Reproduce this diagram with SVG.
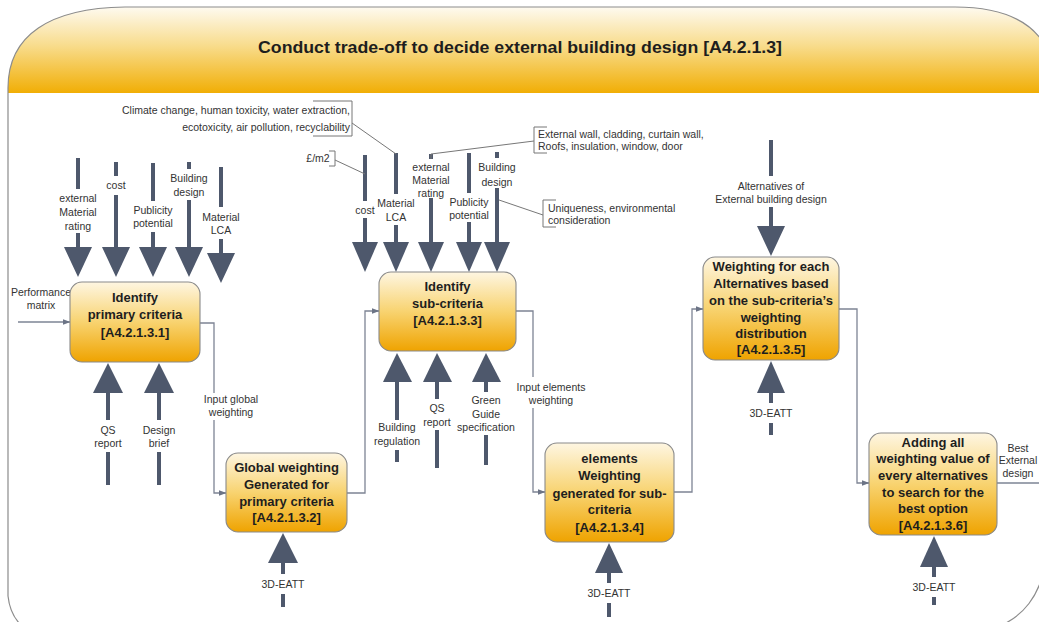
<svg xmlns="http://www.w3.org/2000/svg" width="1039" height="622" viewBox="0 0 1039 622">
  <defs>
    <linearGradient id="bandFill" x1="0" y1="0" x2="0" y2="1">
      <stop offset="0" stop-color="#FEFAF0"/>
      <stop offset="0.45" stop-color="#F8DC8C"/>
      <stop offset="1" stop-color="#F1AE05"/>
    </linearGradient>
    <linearGradient id="nodeFill" x1="0" y1="0" x2="0" y2="1">
      <stop offset="0" stop-color="#FEF6E2"/>
      <stop offset="0.5" stop-color="#F8D370"/>
      <stop offset="1" stop-color="#EFA300"/>
    </linearGradient>
    <marker id="tip" markerWidth="8" markerHeight="6" refX="7.5" refY="3" orient="auto" markerUnits="userSpaceOnUse">
      <path d="M0,0 L8,3 L0,6 Z" fill="#6C7486"/>
    </marker>
  </defs>
  <style>
    .frame { fill: none; stroke: #8C8C8C; stroke-width: 1.2; }
    .node rect { fill: url(#nodeFill); stroke: #8A8A8A; stroke-width: 1.1; }
    .node text { font-family: "Liberation Sans", Arial, sans-serif; font-size: 13px; font-weight: bold; fill: #1E1E1E; text-anchor: middle; }
    .title { font-family: "Liberation Sans", Arial, sans-serif; font-size: 17px; font-weight: bold; fill: #1E1E1E; text-anchor: middle; }
    .shaft { stroke: #4E586C; stroke-width: 4; fill: none; }
    .head { fill: #4E586C; }
    .flow { stroke: #7D8494; stroke-width: 1.3; fill: none; }
    .callout { stroke: #777777; stroke-width: 1; fill: none; }
    .lbl { font-family: "Liberation Sans", Arial, sans-serif; font-size: 10.5px; fill: #333333; text-anchor: middle; }
    .lblL { font-family: "Liberation Sans", Arial, sans-serif; font-size: 10.5px; fill: #333333; text-anchor: start; }
    .lblR { font-family: "Liberation Sans", Arial, sans-serif; font-size: 10.5px; fill: #333333; text-anchor: end; }
  </style>

  <rect width="1039" height="622" fill="#FFFFFF"/>

  <!-- title band -->
  <g id="header">
    <path d="M8,93 L8,88 C8,35 50,8 125,7 L955,7 C1000,7 1030,20 1045,45 L1045,93 Z" fill="url(#bandFill)"/>
    <text class="title" x="520" y="53" textLength="524" lengthAdjust="spacingAndGlyphs">Conduct trade-off to decide external building design [A4.2.1.3]</text>
  </g>

  <!-- outer frame -->
  <g id="frame">
    <path class="frame" d="M8,596 L8,88 C8,35 50,8 125,7 L955,7 C1000,7 1030,20 1045,45"/>
    <path class="frame" d="M8,596 Q10,615 22,626"/>
    <path class="frame" d="M1046,560 C1040,598 1022,616 1000,626"/>
  </g>

  <!-- connectors: thick control/mechanism arrows, thin flows, callouts -->
  <g id="connectors">
    <!-- A4.2.1.3.1 controls -->
    <path class="shaft" d="M78,158 V189 M78,233 V250"/>
    <polygon class="head" points="64,247 92,247 78,277"/>
    <path class="shaft" d="M116,162 V176 M116,195 V250"/>
    <polygon class="head" points="102,247 130,247 116,277"/>
    <path class="shaft" d="M153,163 V201 M153,232 V250"/>
    <polygon class="head" points="139,247 167,247 153,277"/>
    <path class="shaft" d="M189,162 V169 M189,200 V250"/>
    <polygon class="head" points="175,247 203,247 189,277"/>
    <path class="shaft" d="M221,167 V207 M221,239 V256"/>
    <polygon class="head" points="207,253 235,253 221,283"/>
    <!-- A4.2.1.3.1 mechanisms -->
    <polygon class="head" points="93,393 123,393 108,363"/>
    <path class="shaft" d="M108,390 V420 M108,452 V485"/>
    <polygon class="head" points="144,393 174,393 159,363"/>
    <path class="shaft" d="M159,390 V420 M159,452 V485"/>
    <!-- A4.2.1.3.2 mechanism -->
    <polygon class="head" points="268,563 298,563 283,533"/>
    <path class="shaft" d="M283,560 V574 M283,594 V607"/>
    <!-- A4.2.1.3.3 controls -->
    <path class="shaft" d="M365,155 V201 M365,218 V245"/>
    <polygon class="head" points="352,242 378,242 365,272"/>
    <path class="shaft" d="M396,153 V194 M396,225 V245"/>
    <polygon class="head" points="383,242 409,242 396,272"/>
    <path class="shaft" d="M431,154 V159 M431,198 V245"/>
    <polygon class="head" points="418,242 444,242 431,272"/>
    <path class="shaft" d="M469,153 V193 M469,222 V245"/>
    <polygon class="head" points="456,242 482,242 469,272"/>
    <path class="shaft" d="M497,152 V158 M497,188 V245"/>
    <polygon class="head" points="484,242 510,242 497,272"/>
    <!-- A4.2.1.3.3 mechanisms -->
    <polygon class="head" points="383,382 412,382 397,353"/>
    <path class="shaft" d="M397,379 V420 M397,450 V462"/>
    <polygon class="head" points="423,382 452,382 437,353"/>
    <path class="shaft" d="M437,379 V399 M437,430 V468"/>
    <polygon class="head" points="472,382 501,382 486,353"/>
    <path class="shaft" d="M486,379 V392 M486,435 V465"/>
    <!-- A4.2.1.3.4 mechanism -->
    <polygon class="head" points="595,573 623,573 609,543"/>
    <path class="shaft" d="M609,570 V583 M609,603 V617"/>
    <!-- A4.2.1.3.5 control and mechanism -->
    <path class="shaft" d="M771,140 V176 M771,207 V229"/>
    <polygon class="head" points="757,226 785,226 771,256"/>
    <polygon class="head" points="757,393 785,393 771,361"/>
    <path class="shaft" d="M771,390 V403 M771,423 V435"/>
    <!-- A4.2.1.3.6 mechanism -->
    <polygon class="head" points="920,567 948,567 934,536"/>
    <path class="shaft" d="M934,564 V577 M934,597 V605"/>

    <!-- flows between activities -->
    <path class="flow" d="M18,322 H70" marker-end="url(#tip)"/>
    <path class="flow" d="M200,323 H214 V393 M214,420 V493 H226" marker-end="url(#tip)"/>
    <path class="flow" d="M347,493 H365 V311 H379" marker-end="url(#tip)"/>
    <path class="flow" d="M516,311 H533 V377 M533,408 V492 H545" marker-end="url(#tip)"/>
    <path class="flow" d="M674,492 H692 V309 H703" marker-end="url(#tip)"/>
    <path class="flow" d="M839,309 H857 V483 H869" marker-end="url(#tip)"/>
    <path class="flow" d="M997,483 H1039"/>

    <!-- callout brackets and leaders -->
    <path class="callout" d="M313,101 H352 V136 H313"/>
    <path class="callout" d="M352,123 L396,154"/>
    <path class="callout" d="M329,151 H335 V166 H329"/>
    <path class="callout" d="M335,160 L365,174"/>
    <path class="callout" d="M547,127 H534 V153 H547"/>
    <path class="callout" d="M431,159 V154 L534,141"/>
    <path class="callout" d="M556,200 H543 V227 H556"/>
    <path class="callout" d="M499,200 L543,215"/>
  </g>

  <!-- labels on arrows and flows -->
  <g id="labels">
    <text class="lbl" x="78" y="201.5">external</text>
    <text class="lbl" x="78" y="215.5">Material</text>
    <text class="lbl" x="78" y="229.5">rating</text>
    <text class="lbl" x="116" y="188.5">cost</text>
    <text class="lbl" x="153" y="213.5">Publicity</text>
    <text class="lbl" x="153" y="226.5">potential</text>
    <text class="lbl" x="189" y="181.5">Building</text>
    <text class="lbl" x="189" y="195.5">design</text>
    <text class="lbl" x="221" y="220.5">Material</text>
    <text class="lbl" x="221" y="233.5">LCA</text>
    <text class="lbl" x="41" y="295.5">Performance</text>
    <text class="lbl" x="41" y="308.5">matrix</text>
    <text class="lbl" x="108" y="433.5">QS</text>
    <text class="lbl" x="108" y="446.5">report</text>
    <text class="lbl" x="159" y="433.5">Design</text>
    <text class="lbl" x="159" y="446.5">brief</text>
    <text class="lbl" x="231" y="402.5">Input global</text>
    <text class="lbl" x="231" y="415.5">weighting</text>
    <text class="lbl" x="283" y="587.5">3D-EATT</text>

    <text class="lblR" x="350" y="113.5">Climate change, human toxicity, water extraction,</text>
    <text class="lblR" x="350" y="130.5">ecotoxicity, air pollution, recyclability</text>
    <text class="lbl" x="318" y="161.5">£/m2</text>
    <text class="lbl" x="365" y="213.5">cost</text>
    <text class="lbl" x="396" y="206.5">Material</text>
    <text class="lbl" x="396" y="220.5">LCA</text>
    <text class="lbl" x="431" y="170.5">external</text>
    <text class="lbl" x="431" y="183.5">Material</text>
    <text class="lbl" x="431" y="196.5">rating</text>
    <text class="lbl" x="469" y="205.5">Publicity</text>
    <text class="lbl" x="469" y="218.5">potential</text>
    <text class="lbl" x="497" y="170.5">Building</text>
    <text class="lbl" x="497" y="185.5">design</text>
    <text class="lblL" x="538" y="137.5">External wall, cladding, curtain wall,</text>
    <text class="lblL" x="538" y="149.5">Roofs, insulation, window, door</text>
    <text class="lblL" x="548" y="211.5">Uniqueness, environmental</text>
    <text class="lblL" x="548" y="223.5">consideration</text>

    <text class="lbl" x="397" y="430.5">Building</text>
    <text class="lbl" x="397" y="444.5">regulation</text>
    <text class="lbl" x="437" y="411.5">QS</text>
    <text class="lbl" x="437" y="425.5">report</text>
    <text class="lbl" x="486" y="403.5">Green</text>
    <text class="lbl" x="486" y="417.5">Guide</text>
    <text class="lbl" x="486" y="430.5">specification</text>
    <text class="lbl" x="551" y="390.5">Input elements</text>
    <text class="lbl" x="551" y="403.5">weighting</text>
    <text class="lbl" x="609" y="596.5">3D-EATT</text>

    <text class="lbl" x="771" y="189.5">Alternatives of</text>
    <text class="lbl" x="771" y="202.5">External building design</text>
    <text class="lbl" x="771" y="416.5">3D-EATT</text>
    <text class="lbl" x="1018" y="451.5">Best</text>
    <text class="lbl" x="1018" y="463.5">External</text>
    <text class="lbl" x="1018" y="476.5">design</text>
    <text class="lbl" x="934" y="590.5">3D-EATT</text>
  </g>

  <!-- activity boxes -->
  <g id="A4.2.1.3.1" class="node">
    <rect x="70" y="282" width="130" height="80" rx="12"/>
    <text x="135" y="301.5">Identify</text>
    <text x="135" y="318.5">primary criteria</text>
    <text x="135" y="336.5">[A4.2.1.3.1]</text>
  </g>
  <g id="A4.2.1.3.2" class="node">
    <rect x="226" y="453" width="121" height="79" rx="12"/>
    <text x="286.5" y="471.5">Global weighting</text>
    <text x="286.5" y="488.5">Generated for</text>
    <text x="286.5" y="505.5">primary criteria</text>
    <text x="286.5" y="521.5">[A4.2.1.3.2]</text>
  </g>
  <g id="A4.2.1.3.3" class="node">
    <rect x="379" y="272" width="137" height="79" rx="12"/>
    <text x="447.5" y="290.5">Identify</text>
    <text x="447.5" y="307.5">sub-criteria</text>
    <text x="447.5" y="324.5">[A4.2.1.3.3]</text>
  </g>
  <g id="A4.2.1.3.4" class="node">
    <rect x="545" y="443" width="129" height="99" rx="12"/>
    <text x="609.5" y="462.5">elements</text>
    <text x="609.5" y="479.5">Weighting</text>
    <text x="609.5" y="497.5">generated for sub-</text>
    <text x="609.5" y="513.5">criteria</text>
    <text x="609.5" y="531.5">[A4.2.1.3.4]</text>
  </g>
  <g id="A4.2.1.3.5" class="node">
    <rect x="703" y="257" width="136" height="103" rx="12"/>
    <text x="771" y="270.5">Weighting for each</text>
    <text x="771" y="287.5">Alternatives based</text>
    <text x="771" y="304.5">on the sub-criteria’s</text>
    <text x="771" y="321.5">weighting</text>
    <text x="771" y="337.5">distribution</text>
    <text x="771" y="353.5">[A4.2.1.3.5]</text>
  </g>
  <g id="A4.2.1.3.6" class="node">
    <rect x="869" y="433" width="128" height="102" rx="12"/>
    <text x="933" y="446.5">Adding all</text>
    <text x="933" y="462.5">weighting value of</text>
    <text x="933" y="479.5">every alternatives</text>
    <text x="933" y="496.5">to search for the</text>
    <text x="933" y="512.5">best option</text>
    <text x="933" y="529.5">[A4.2.1.3.6]</text>
  </g>
</svg>
